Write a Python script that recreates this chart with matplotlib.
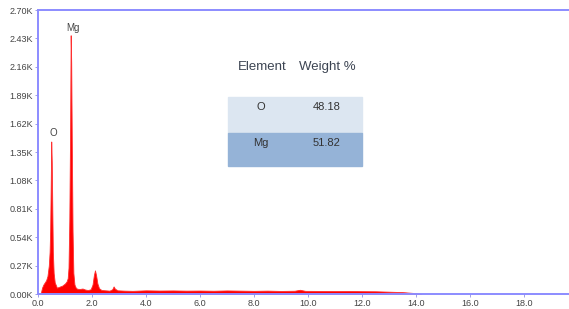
import numpy as np
import matplotlib
matplotlib.use("Agg")
from matplotlib import pyplot as plt
from matplotlib.ticker import FuncFormatter, MultipleLocator

# EDS spectrum (keV, counts)
energy = [0.00, 0.10, 0.15, 0.20, 0.25, 0.30, 0.35, 0.40, 0.43, 0.45, 0.47,
          0.49, 0.51, 0.53, 0.55, 0.58, 0.62, 0.70, 0.80, 0.90, 1.00, 1.06,
          1.10, 1.13, 1.16, 1.19, 1.21, 1.23, 1.25, 1.28, 1.31, 1.35, 1.40,
          1.45, 1.55, 1.65, 1.75, 1.85, 1.95, 2.02, 2.07, 2.11, 2.15, 2.20,
          2.26, 2.35, 2.50, 2.65, 2.75, 2.80, 2.85, 2.95, 3.2, 3.5, 4.0,
          4.5, 5.0, 5.5, 6.0, 6.5, 7.0, 7.5, 8.0, 8.5, 9.0, 9.5, 9.7, 9.9,
          10.5, 11.0, 11.5, 12.0, 12.5, 13.0, 13.5, 14.0, 14.2]
counts = [0, 5, 60, 90, 110, 130, 170, 270, 400, 600, 1000,
          1450, 1250, 800, 400, 200, 110, 60, 70, 80, 100, 120,
          150, 250, 700, 1600, 2460, 2200, 1500, 600, 200, 90, 60,
          50, 48, 52, 42, 38, 45, 90, 180, 225, 180, 100,
          55, 38, 35, 32, 45, 72, 50, 35, 32, 30, 35,
          33, 34, 32, 33, 31, 34, 32, 30, 32, 29, 31, 40, 30,
          29, 28, 29, 27, 26, 22, 18, 8, 0]

peak_labels = ["O", "Mg"]
peak_pos = [(0.55, 1480), (1.28, 2480)]

elements = ["O", "Mg"]
weight_pct = ["48.18", "51.82"]

fig = plt.figure(figsize=(5.69, 3.09), dpi=100)
ax = fig.add_axes([38 / 569, 15 / 309, 1 - 38 / 569, 284 / 309])

ax.fill_between(energy, counts, 0, color="#ff0000", lw=0.6, edgecolor="#ff3030")
ax.set_xlim(0, 531 / 27)
ax.set_ylim(0, 2700)

ax.xaxis.set_major_locator(MultipleLocator(2.0))
ax.yaxis.set_major_locator(MultipleLocator(270))
ax.xaxis.set_major_formatter(FuncFormatter(lambda v, p: f"{v:.1f}"))
ax.yaxis.set_major_formatter(FuncFormatter(lambda v, p: f"{v / 1000:.2f}K"))

tick_font = ["Liberation Sans Narrow", "Liberation Sans", "DejaVu Sans"]
for lab in ax.get_xticklabels() + ax.get_yticklabels():
    lab.set_family(tick_font)
ax.tick_params(labelsize=6.5, labelcolor="#444444", color="#9090e0",
               length=2, width=0.6, pad=1.5)

for side in ["left", "bottom", "top"]:
    ax.spines[side].set_color("#8c8cff")
    ax.spines[side].set_linewidth(1.4)
ax.spines["right"].set_visible(False)

for name, (x, y) in zip(peak_labels, peak_pos):
    ax.text(x, y, name, ha="center", va="bottom", fontsize=7,
            color="#444444", family=tick_font)

# weight table
def px(x, y):
    return x / 569, 1 - y / 309

fig.text(*px(262, 67), "Element", ha="center", va="center", fontsize=9.5,
         color="#3c4452", family=tick_font)
fig.text(*px(327, 67), "Weight %", ha="center", va="center", fontsize=9.5,
         color="#3c4452", family=tick_font)

row_tops = [97, 133]
row_h = [36, 33]
row_colors = ["#dce6f1", "#95b3d7"]
for el, w, top, h, c in zip(elements, weight_pct, row_tops, row_h, row_colors):
    x0, y0 = px(228, top + h)
    fig.patches.append(plt.Rectangle((x0, y0), 134 / 569, h / 309,
                                     transform=fig.transFigure, color=c,
                                     zorder=0))
    fig.text(*px(261, top + 10), el, ha="center", va="center", fontsize=8,
             color="#333333", family=tick_font)
    fig.text(*px(327, top + 10), w, ha="center", va="center", fontsize=8,
             color="#333333", family=tick_font)

fig.savefig("out.png", dpi=100)
